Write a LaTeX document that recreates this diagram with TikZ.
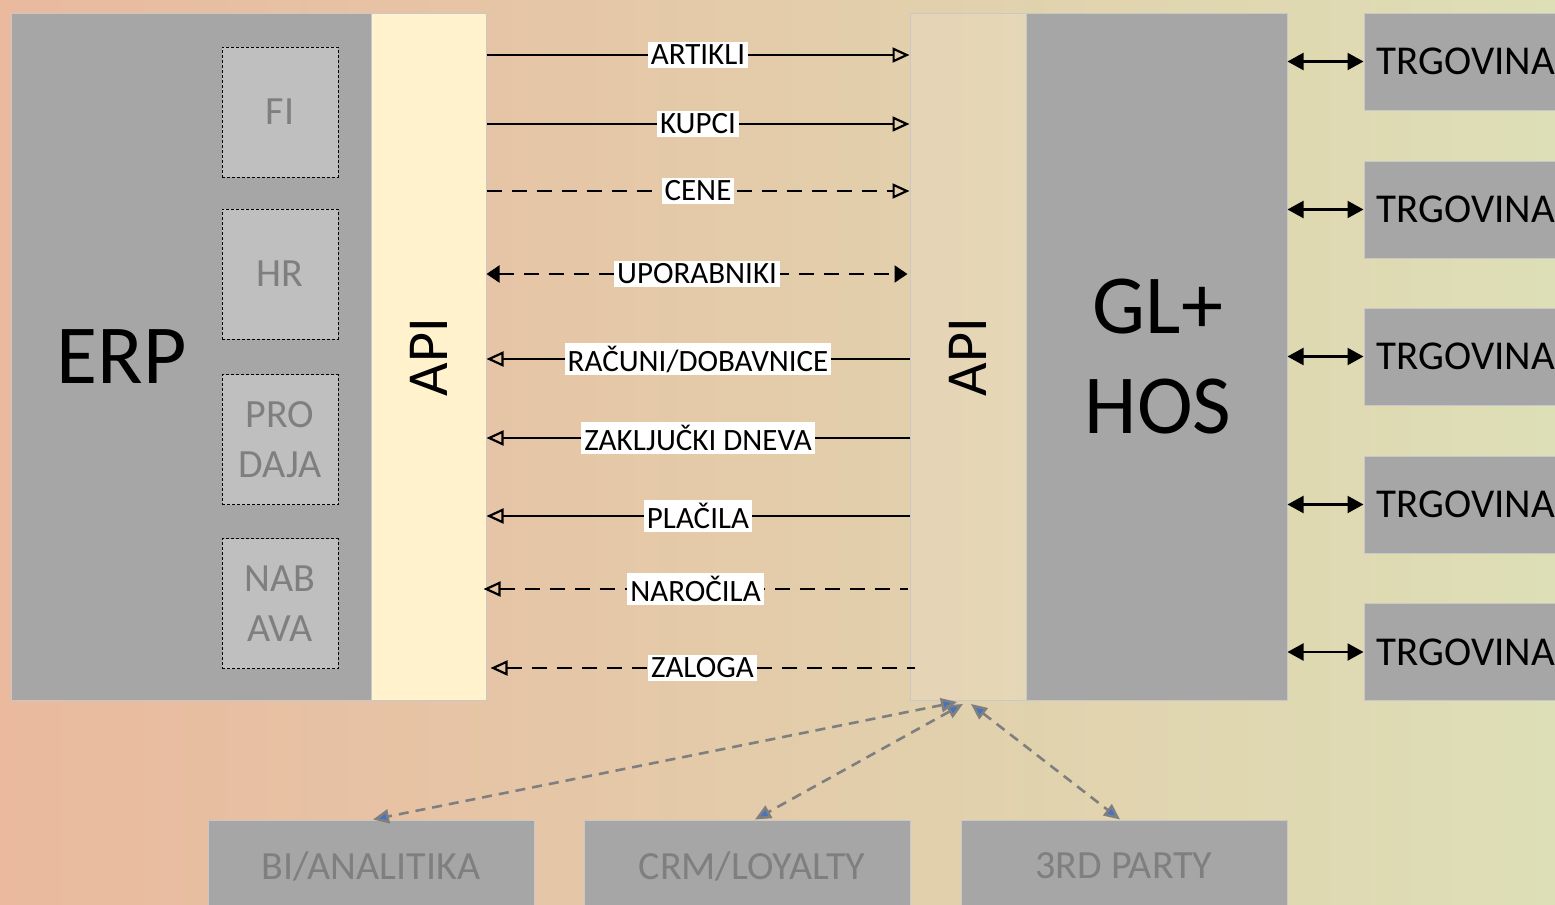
\documentclass[tikz,border=0pt]{standalone}
\usepackage{fontspec}
\setmainfont{Carlito}
\usetikzlibrary{arrows.meta}
\definecolor{boxgray}{RGB}{166,166,166}
\definecolor{subgray}{RGB}{191,191,191}
\definecolor{txtgray}{RGB}{127,127,127}
\definecolor{apiyel}{RGB}{255,242,204}
\definecolor{bgleft}{RGB}{234,185,158}
\definecolor{bgright}{RGB}{221,223,182}
\definecolor{arrblue}{RGB}{68,114,196}
\definecolor{edgegray}{RGB}{200,200,200}
\begin{document}
\begin{tikzpicture}[x=0.5pt,y=-0.5pt,
  bigbox/.style={rectangle, fill=boxgray, draw=edgegray, line width=0.5pt, inner sep=0pt},
  subbox/.style={rectangle, fill=subgray, draw=black, line width=0.5pt, dash pattern=on 1.5pt off 1pt, inner sep=0pt, minimum width=58pt, minimum height=65pt, text=txtgray, align=center, font=\fontsize{20}{25}\selectfont},
  bigtxt/.style={inner sep=0pt, align=center, font=\fontsize{42}{50}\selectfont},
  apitxt/.style={inner sep=0pt, rotate=90, font=\fontsize{29}{34}\selectfont},
  trgtxt/.style={inner sep=0pt, anchor=west, font=\fontsize{20.5}{24}\selectfont},
  bottxt/.style={inner sep=0pt, text=txtgray, font=\fontsize{20}{24}\selectfont},
  lbl/.style={fill=white, inner sep=1.5pt, font=\fontsize{15.5}{18}\selectfont},
  flow/.style={line width=1.1pt},
  dashflow/.style={line width=1.1pt, dash pattern=on 7.5pt off 5pt},
  opentip/.style={-{Triangle[open,length=8.5pt,width=7.5pt]}},
  opentipl/.style={{Triangle[open,length=8.5pt,width=7.5pt]}-},
  dbl/.style={line width=1.1pt, {Triangle[length=8pt,width=8.5pt]}-{Triangle[length=8pt,width=8.5pt]}},
  extarr/.style={draw=txtgray, line width=1.3pt, dash pattern=on 5pt off 3.5pt,
     {Triangle[length=8pt,width=7pt,fill=arrblue]}-{Triangle[length=8pt,width=7pt,fill=arrblue]}}
]
\useasboundingbox (0,0) rectangle (1555,905);
\clip (0,0) rectangle (1555,905);
\shade[left color=bgleft, right color=bgright] (0,0) rectangle (1555,905);

% ERP
\node[bigbox, minimum width=180pt, minimum height=343.5pt] (erp) at (191,356.5) {};
\node[bigtxt] (erptxt) at (122,357) {ERP};
\node[subbox] (fi) at (280,112) {FI};
\node[subbox] (hr) at (280,274) {HR};
\node[subbox] (pro) at (280,439.5) {PRO\\DAJA};
\node[subbox] (nab) at (280,603.5) {NAB\\AVA};

% API left
\node[rectangle, fill=apiyel, draw=edgegray, line width=0.5pt, minimum width=57.5pt, minimum height=343.5pt, inner sep=0pt] (apiL) at (428.5,356.5) {};
\node[apitxt] (apiLt) at (428.5,357) {API};

% API right
\node[rectangle, fill=white, fill opacity=0.12, draw=edgegray, line width=0.5pt, minimum width=58pt, minimum height=343.5pt, inner sep=0pt] (apiR) at (968,356.5) {};
\node[apitxt] (apiRt) at (968,357) {API};

% GL+HOS
\node[bigbox, minimum width=130.5pt, minimum height=343.5pt] (gl) at (1156.5,356.5) {};
\node[bigtxt] (gltxt) at (1158,357) {GL+\\HOS};

% TRGOVINA
\foreach \i/\y in {1/61.5,2/209.5,3/356.5,4/504.5,5/652}{
  \node[bigbox, minimum width=110pt, minimum height=48.5pt] (t\i) at (1474,\y) {};
  \node[trgtxt] (tt\i) at ([xshift=6.5pt]t\i.west) {TRGOVINA};
  \draw[dbl] (gl.east |- t\i.west) -- (t\i.west);
}

% bottom boxes
\node[bigbox, minimum width=163pt, minimum height=55pt] (bi) at (371,875) {};
\node[bigbox, minimum width=163pt, minimum height=55pt] (crm) at (747,875) {};
\node[bigbox, minimum width=163pt, minimum height=55pt] (trd) at (1124,875) {};
\node[bottxt] (bit) at (371,866) {BI/ANALITIKA};
\node[bottxt] (crmt) at (752,866) {CRM/LOYALTY};
\node[bottxt] (trdt) at (1124,866) {3RD PARTY};

\coordinate (s1) at (957,702);
\coordinate (s2) at (963,704);
\coordinate (s3) at (971,704);
\draw[extarr] (s1) -- ([xshift=1pt]bi.north);
\draw[extarr] (s2) -- ([xshift=4pt]crm.north);
\draw[extarr] (s3) -- ([xshift=-2pt]trd.north);

% flows
\draw[flow, opentip] (apiL.east |- 0,55) -- node[lbl]{ARTIKLI} (apiR.west |- 0,55);
\draw[flow, opentip] (apiL.east |- 0,124) -- node[lbl]{KUPCI} (apiR.west |- 0,124);
\draw[dashflow, opentip] (apiL.east |- 0,191) -- node[lbl]{CENE} (apiR.west |- 0,191);
\draw[dashflow, {Triangle[length=6.5pt,width=8.5pt]}-{Triangle[length=6.5pt,width=8.5pt]}] (apiL.east |- 0,274) -- node[lbl]{UPORABNIKI} ([xshift=-1pt]apiR.west |- 0,274);
\draw[flow, opentipl] (apiL.east |- 0,359) -- node[lbl]{RAČUNI/DOBAVNICE} (apiR.west |- 0,359);
\draw[flow, opentipl] (apiL.east |- 0,438) -- node[lbl]{ZAKLJUČKI DNEVA} (apiR.west |- 0,438);
\draw[flow, opentipl] (apiL.east |- 0,516) -- node[lbl]{PLAČILA} (apiR.west |- 0,516);
\draw[dashflow, opentipl] ([xshift=-1.5pt]apiL.east |- 0,589) -- node[lbl]{NAROČILA} ([xshift=-1pt]apiR.west |- 0,589);
\draw[dashflow, opentipl] ([xshift=2pt]apiL.east |- 0,668) -- node[lbl]{ZALOGA} ([xshift=2.5pt]apiR.west |- 0,668);
\end{tikzpicture}
\end{document}
